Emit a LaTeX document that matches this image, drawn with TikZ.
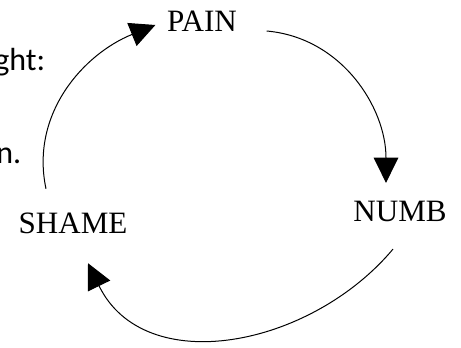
\documentclass[tikz,border=0pt]{standalone}
\usepackage{fontspec}
\setmainfont{Liberation Serif}
\newfontfamily\notefont{Carlito}
\usetikzlibrary{arrows.meta}
\begin{document}
\begin{tikzpicture}[
    x=0.75pt, y=0.75pt,
    stage/.style={inner sep=0pt, font=\fontsize{23.3}{28}\selectfont},
    aside/.style={inner sep=0pt, anchor=base west, font=\notefont\fontsize{24}{29}\selectfont},
    flow/.style={line width=0.75pt, -{Triangle[length=19pt, width=18.5pt]}},
  ]
  \useasboundingbox (0,0) rectangle (461,347);
  % Left margin: the cut-off text
  \node[aside] (note1) at (-6, 276) {ght:};
  \node[aside] (note2) at (-4, 184) {n.};
  % The three stages
  \node[stage] (pain) at (202, 326) {PAIN};
  \node[stage] (numb) at (400, 136) {NUMB};
  \node[stage] (shame) at (73, 123.5) {SHAME};
  % The cycle
  \draw[flow] ([shift={(29.5,-10)}]pain.east) to[out=-5, in=90] ([shift={(-14,17.5)}]numb.north);
  \draw[flow] ([shift={(-7,-27.5)}]numb.south) to[out=-130, in=-64, looseness=1.08] ([shift={(15,-29)}]shame.south);
  \draw[flow] ([shift={(-27,24)}]shame.north) to[out=102, in=-158] ([shift={(-11.5,-4)}]pain.west);
\end{tikzpicture}
\end{document}
